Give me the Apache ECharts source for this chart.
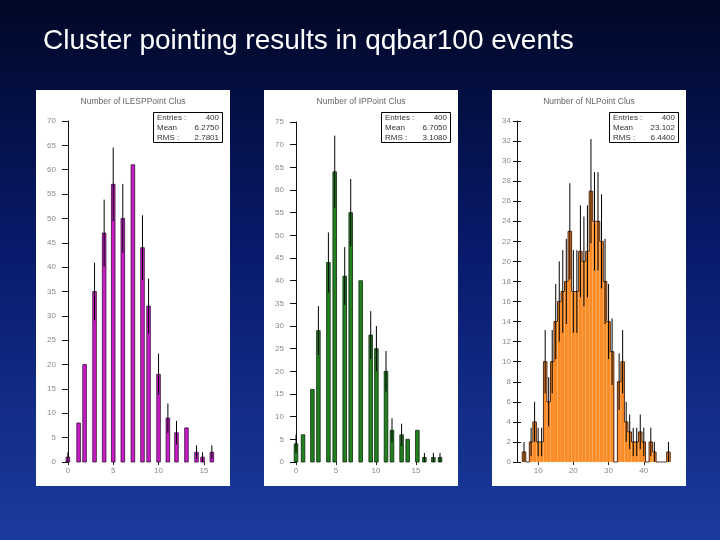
<!DOCTYPE html>
<html><head><meta charset="utf-8">
<script src="https://cdn.jsdelivr.net/npm/echarts@6/dist/echarts.min.js"></script>
<style>html,body{margin:0;padding:0;background:#000a30}#c{width:720px;height:540px}</style>
</head><body><div id="c"></div>
<script>
// ---------------- data ----------------
const mainTitle = 'Cluster pointing results in qqbar100 events';
const panelTitles = ['Number of ILESPPoint Clus', 'Number of IPPoint Clus', 'Number of NLPoint Clus'];
const statLabels = ['Entries :', 'Mean', 'RMS :'];
const stats1 = ['400', '6.2750', '2.7801'];
const stats2 = ['400', '6.7050', '3.1080'];
const stats3 = ['400', '23.102', '6.4400'];

// panel 1 (magenta)
const p1Centers = [0, 1.18, 1.84, 2.94, 4.0, 5.0, 6.06, 7.17, 8.23, 8.9, 10.0, 11.03, 11.98, 13.08, 14.19, 14.85, 15.88];
const p1Counts  = [1, 8, 20, 35, 47, 57, 50, 61, 44, 32, 18, 9, 6, 7, 2, 1, 2];
const p1ErrShown = [1, 0, 0, 1, 1, 1, 1, 0, 1, 1, 1, 1, 1, 0, 1, 1, 1];

// panel 2 (green)
const p2Centers = [0, 0.88, 2.05, 2.8, 4.05, 4.84, 6.09, 6.84, 8.09, 9.34, 10.05, 11.25, 12.0, 13.2, 13.96, 15.17, 16.05, 17.17, 18.0];
const p2Counts  = [4, 6, 16, 29, 44, 64, 41, 55, 40, 28, 25, 20, 7, 6, 5, 7, 1, 1, 1];
const p2ErrShown = [1, 0, 0, 1, 1, 1, 1, 1, 0, 1, 1, 1, 1, 1, 0, 0, 1, 1, 1];

// panel 3 (orange)
const p3Bins   = [6, 7, 8, 9, 10, 11, 12, 13, 14, 15, 16, 17, 18, 19, 20, 21, 22, 23, 24, 25, 26, 27, 28, 29, 30, 31, 32, 33, 34, 35, 36, 37, 38, 39, 40, 41, 42, 43, 44, 45, 46, 47];
const p3Counts = [1, 0, 2, 4, 2, 2, 10, 6, 10, 14, 16, 17, 18, 23, 17, 17, 21, 20, 21, 27, 24, 24, 22, 18, 14, 11, 0, 8, 10, 4, 3, 2, 2, 3, 2, 0, 2, 1, 0, 0, 0, 1];

const p1XTicks = [0, 5, 10, 15];
const p2XTicks = [0, 5, 10, 15];
const p3XTicks = [10, 20, 30, 40];

// ---------------- chart ----------------
const chart = echarts.init(document.getElementById('c'), null, {width: 720, height: 540});
const FONT = 'Liberation Sans';

const panelRects = [
  {x: 36, y: 90, w: 194, h: 396},
  {x: 264, y: 90, w: 194, h: 396},
  {x: 492, y: 90, w: 194, h: 396}
];
const grids = [
  {left: 62, top: 121, width: 160, height: 341},
  {left: 290, top: 122, width: 161, height: 340},
  {left: 517, top: 121, width: 162, height: 341}
];
const xRanges = [[-0.65, 17], [-0.75, 19.375], [4, 50]];
const yRanges = [[0, 70, 5], [0, 75, 5], [0, 34, 2]];
const xTicks = [p1XTicks, p2XTicks, p3XTicks];
const statsAll = [stats1, stats2, stats3];
const boxX = [153, 381, 609];

const xAxes = [], yAxes = [];
for (let i = 0; i < 3; i++) {
  xAxes.push({
    type: 'value', gridIndex: i, min: xRanges[i][0], max: xRanges[i][1],
    axisLine: {show: false}, splitLine: {show: false},
    axisTick: {show: true, length: 3, customValues: xTicks[i], lineStyle: {color: '#222'}},
    axisLabel: {show: true, customValues: xTicks[i], fontSize: 8, color: '#8a8a8a', fontFamily: FONT, margin: 5}
  });
  yAxes.push({
    type: 'value', gridIndex: i, min: yRanges[i][0], max: yRanges[i][1], interval: yRanges[i][2],
    axisLine: {show: true, lineStyle: {color: '#111', width: 1}}, splitLine: {show: false},
    axisTick: {show: true, length: 4, lineStyle: {color: '#111'}},
    axisLabel: {fontSize: 8, color: '#8a8a8a', fontFamily: FONT, margin: 6}
  });
}
// inner tick halves
for (let i = 0; i < 3; i++) {
  yAxes.push({
    type: 'value', gridIndex: i, min: yRanges[i][0], max: yRanges[i][1], interval: yRanges[i][2],
    position: 'left',
    axisLine: {show: false}, splitLine: {show: false}, axisLabel: {show: false},
    axisTick: {show: true, inside: true, length: 4, lineStyle: {color: '#111'}}
  });
}

function narrowBars(fill, stroke) {
  return function (params, api) {
    const x = api.value(0), v = api.value(1);
    const p0 = api.coord([x, 0]), p1 = api.coord([x, v]);
    const w = 3.6;
    return {type: 'rect', shape: {x: p0[0] - w / 2, y: p1[1], width: w, height: p0[1] - p1[1]},
      style: {fill: fill, stroke: stroke, lineWidth: 0.8}};
  };
}
function errBars(params, api) {
  const x = api.value(0), v = api.value(1);
  const e = Math.sqrt(v);
  const a = api.coord([x, v - e]), b = api.coord([x, v + e]);
  return {type: 'line', shape: {x1: a[0], y1: a[1], x2: b[0], y2: b[1]}, style: {stroke: '#000', lineWidth: 1}};
}
function histBins(params, api) {
  const k = api.value(0), v = api.value(1);
  const i = params.dataIndex;
  const prev = i > 0 ? p3Counts[i - 1] : 0;
  const children = [];
  const p0 = api.coord([k - 0.5, 0]), p1 = api.coord([k + 0.5, v]);
  if (v > 0) {
    children.push({type: 'rect', shape: {x: p0[0], y: p1[1], width: p1[0] - p0[0], height: p0[1] - p1[1]},
      style: {fill: '#fb8a22', stroke: 'rgba(255,200,150,0.55)', lineWidth: 0.4}});
  }
  const outline = {stroke: '#3c1a08', lineWidth: 0.9};
  const lt = api.coord([k - 0.5, prev]);
  children.push({type: 'line', shape: {x1: p0[0], y1: lt[1], x2: p0[0], y2: p1[1]}, style: outline});
  children.push({type: 'line', shape: {x1: p0[0], y1: p1[1], x2: p1[0], y2: p1[1]}, style: outline});
  if (i === p3Counts.length - 1) {
    children.push({type: 'line', shape: {x1: p1[0], y1: p1[1], x2: p1[0], y2: p0[1]}, style: outline});
  }
  return {type: 'group', children: children};
}

const d1 = p1Centers.map((x, i) => [x, p1Counts[i]]);
const d2 = p2Centers.map((x, i) => [x, p2Counts[i]]);
const d3 = p3Bins.map((x, i) => [x, p3Counts[i]]);
const e1 = d1.filter((d, i) => p1ErrShown[i]);
const e2 = d2.filter((d, i) => p2ErrShown[i]);
const e3 = d3.filter(d => d[1] > 0);

const series = [
  {type: 'custom', xAxisIndex: 0, yAxisIndex: 0, data: d1, encode: {x: 0, y: 1}, renderItem: narrowBars('#c81ec8', '#3a0a3a'), z: 3},
  {type: 'custom', xAxisIndex: 0, yAxisIndex: 0, data: e1, encode: {x: 0, y: 1}, renderItem: errBars, z: 4},
  {type: 'custom', xAxisIndex: 1, yAxisIndex: 1, data: d2, encode: {x: 0, y: 1}, renderItem: narrowBars('#22801f', '#0c2a0c'), z: 3},
  {type: 'custom', xAxisIndex: 1, yAxisIndex: 1, data: e2, encode: {x: 0, y: 1}, renderItem: errBars, z: 4},
  {type: 'custom', xAxisIndex: 2, yAxisIndex: 2, data: d3, encode: {x: 0, y: 1}, renderItem: histBins, z: 3},
  {type: 'custom', xAxisIndex: 2, yAxisIndex: 2, data: e3, encode: {x: 0, y: 1}, renderItem: errBars, z: 4}
];

const graphics = [];
graphics.push({type: 'text', left: 43, top: 27, z: 10,
  style: {text: mainTitle, fill: '#ffffff', fontSize: 28, fontFamily: FONT}});
for (let i = 0; i < 3; i++) {
  const p = panelRects[i];
  graphics.push({type: 'rect', z: -10, shape: {x: p.x, y: p.y, width: p.w, height: p.h}, style: {fill: '#ffffff'}});
  graphics.push({type: 'text', z: 10, x: p.x + p.w / 2, y: 102,
    style: {text: panelTitles[i], fill: '#666', fontSize: 8.5, fontFamily: FONT, textAlign: 'center', textVerticalAlign: 'middle'}});
  const bx = boxX[i];
  graphics.push({type: 'rect', z: 10, shape: {x: bx + 0.5, y: 112.5, width: 69, height: 30},
    style: {fill: '#fff', stroke: '#000', lineWidth: 1}});
  for (let j = 0; j < 3; j++) {
    graphics.push({type: 'text', z: 11, x: bx + 4, y: 118 + j * 10,
      style: {text: statLabels[j], fill: '#333', fontSize: 8, fontFamily: FONT, textVerticalAlign: 'middle'}});
    graphics.push({type: 'text', z: 11, x: bx + 66, y: 118 + j * 10,
      style: {text: statsAll[i][j], fill: '#333', fontSize: 8, fontFamily: FONT, textAlign: 'right', textVerticalAlign: 'middle'}});
  }
}

chart.setOption({
  animation: false,
  backgroundColor: {type: 'linear', x: 0, y: 0, x2: 0, y2: 1,
    colorStops: [{offset: 0, color: '#000826'}, {offset: 0.45, color: '#08196a'}, {offset: 1, color: '#1a3b9e'}]},
  grid: grids,
  xAxis: xAxes,
  yAxis: yAxes,
  series: series,
  graphic: graphics
});
</script>
</body></html>
